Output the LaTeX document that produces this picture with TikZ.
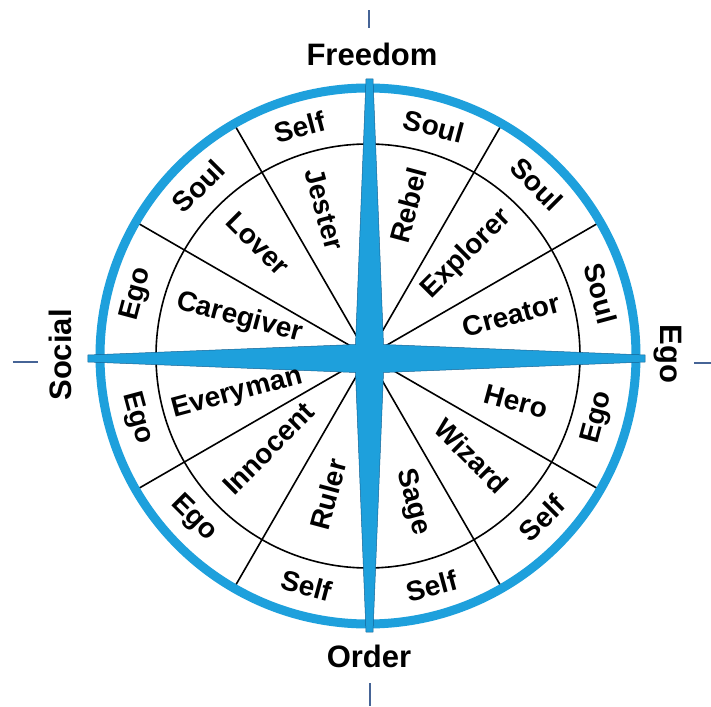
\documentclass[tikz,border=0pt]{standalone}
\usepackage{fontspec}
\setmainfont{Liberation Sans}
\definecolor{wheelblue}{RGB}{30,160,220}
\definecolor{staredge}{RGB}{20,100,150}
\definecolor{tickcol}{RGB}{70,100,150}
\begin{document}
\begin{tikzpicture}[x=1pt,y=1pt,
  compass/.style={font=\fontsize{31}{37}\selectfont\bfseries, inner sep=0pt},
  seclabel/.style={font=\fontsize{28}{33}\selectfont\bfseries, inner sep=0pt},
  divider/.style={line width=1.6pt, black},
  tickmark/.style={line width=1.6pt, tickcol},
  ring/.style={wheelblue, line width=9pt},
  starfill/.style={fill=wheelblue, draw=staredge, line width=0.5pt, line join=miter}]
\useasboundingbox (-368,-350) rectangle (343,356);
\fill[white] (-368,-350) rectangle (343,356);
\coordinate (O) at (0,0);
% inner circle and dividers
\draw[divider] (O) circle (212);
\foreach \a in {30,60,120,150,210,240,300,330}
  \draw[divider] (O) -- (\a:264);
% outer ring
\draw[ring] (O) circle (268);
% compass star
\begin{scope}[shift={(1.5,-2.5)}]
\path[starfill] (275.5,3.5) -- (14,14) -- (3.5,279.5) -- (-3.5,279.5) -- (-14,14)
  -- (-281.5,3.5) -- (-281.5,-3.5) -- (-14,-14) -- (-3.5,-273.5) -- (3.5,-273.5)
  -- (14,-14) -- (275.5,-3.5) -- cycle;
\end{scope}
% inner labels
\node[seclabel, rotate=75]  (rebel)    at (75:156)   {Rebel};
\node[seclabel, rotate=45]  (explorer) at (46:142)   {Explorer};
\node[seclabel, rotate=15]  (creator)  at (16:149)   {Creator};
\node[seclabel, rotate=-15] (hero)     at (-17:155)  {Hero};
\node[seclabel, rotate=-45] (wizard)   at (-44:144)  {Wizard};
\node[seclabel, rotate=-75] (sage)     at (-73:153)  {Sage};
\node[seclabel, rotate=75]  (ruler)    at (-106:144) {Ruler};
\node[seclabel, rotate=45]  (innocent) at (-137:136) {Innocent};
\node[seclabel, rotate=15]  (everyman) at (-164:136) {Everyman};
\node[seclabel, rotate=-15] (caregiver) at (163.5:134) {Caregiver};
\node[seclabel, rotate=-45] (lover)    at (134.5:157) {Lover};
\node[seclabel, rotate=-75] (jester)   at (106.5:153) {Jester};
% outer labels
\node[seclabel, rotate=-15] (o1)  at (74:239)   {Soul};
\node[seclabel, rotate=-45] (o2)  at (45.5:241) {Soul};
\node[seclabel, rotate=-75] (o3)  at (15:241)   {Soul};
\node[seclabel, rotate=75]  (o4)  at (-15:238)  {Ego};
\node[seclabel, rotate=45]  (o5)  at (-43:238)  {Self};
\node[seclabel, rotate=15]  (o6)  at (-74.5:239) {Self};
\node[seclabel, rotate=-15] (o7)  at (-105:238) {Self};
\node[seclabel, rotate=-45] (o8)  at (-137:238) {Ego};
\node[seclabel, rotate=-75] (o9)  at (-165:239) {Ego};
\node[seclabel, rotate=75]  (o10) at (165:239)  {Ego};
\node[seclabel, rotate=45]  (o11) at (135:240)  {Soul};
\node[seclabel, rotate=15]  (o12) at (106.5:239) {Self};
% compass labels
\node[compass] (freedom) at (4,302) {Freedom};
\node[compass] (order) at (1,-300) {Order};
\node[compass, rotate=90] (social) at (-308,1) {Social};
\node[compass, rotate=-90] (egolab) at (300,2) {Ego};
% ticks
\coordinate (tN1) at (1,328);   \coordinate (tN2) at (1,346);
\coordinate (tS1) at (2,-327);  \coordinate (tS2) at (2,-350);
\coordinate (tW1) at (-355,-6); \coordinate (tW2) at (-330,-6);
\coordinate (tE1) at (326,-7);  \coordinate (tE2) at (343,-7);
\draw[tickmark] (tN1) -- (tN2);
\draw[tickmark] (tS1) -- (tS2);
\draw[tickmark] (tW1) -- (tW2);
\draw[tickmark] (tE1) -- (tE2);
\end{tikzpicture}
\end{document}
